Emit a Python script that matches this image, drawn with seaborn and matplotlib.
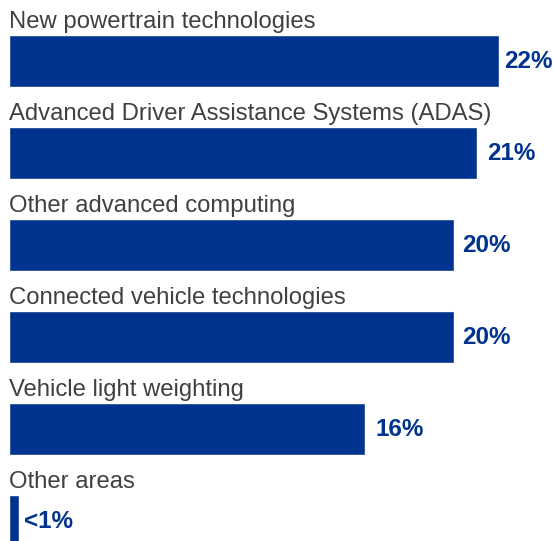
import pandas as pd
import seaborn as sns
import matplotlib.pyplot as plt

areas = ["New powertrain technologies",
         "Advanced Driver Assistance Systems (ADAS)",
         "Other advanced computing",
         "Connected vehicle technologies",
         "Vehicle light weighting",
         "Other areas"]
shares = [22, 21, 20, 20, 16, 0.45]
labels = ["22%", "21%", "20%", "20%", "16%", "<1%"]

blue = "#00338D"

df = pd.DataFrame({"area": areas, "share": shares})

sns.set_style("white")
plt.rcParams['font.family'] = ['Liberation Sans', 'DejaVu Sans']

fig = plt.figure(figsize=(5.53, 5.41), dpi=100)
ax = fig.add_axes([9 / 553, 0, 544 / 553, 1])

sns.barplot(data=df, x="share", y="area", orient="h", color=blue,
            width=0.565, saturation=1, ax=ax)

ax.set_xlim(0, 22 * 544 / 490)
ax.set_ylim(5.217, -0.663)

# gap between bar end and value label (points), slightly uneven in the original
pads = [3.5, 7.5, 5.5, 5.5, 7, 3.5]

for i, (a, v, l) in enumerate(zip(areas, shares, labels)):
    ax.text(0, i - 0.2825 - 0.076, a, ha="left", va="baseline",
            fontsize=17.2, color="#404040")
    ax.annotate(l, (v, i), xytext=(pads[i], 0), textcoords="offset points",
                ha="left", va="center", fontsize=17.5, fontweight="bold",
                color=blue)

ax.set_xlabel(None)
ax.set_ylabel(None)
ax.set_xticks([])
ax.set_yticks([])
sns.despine(ax=ax, left=True, bottom=True)

fig.savefig("out.png", dpi=100)
